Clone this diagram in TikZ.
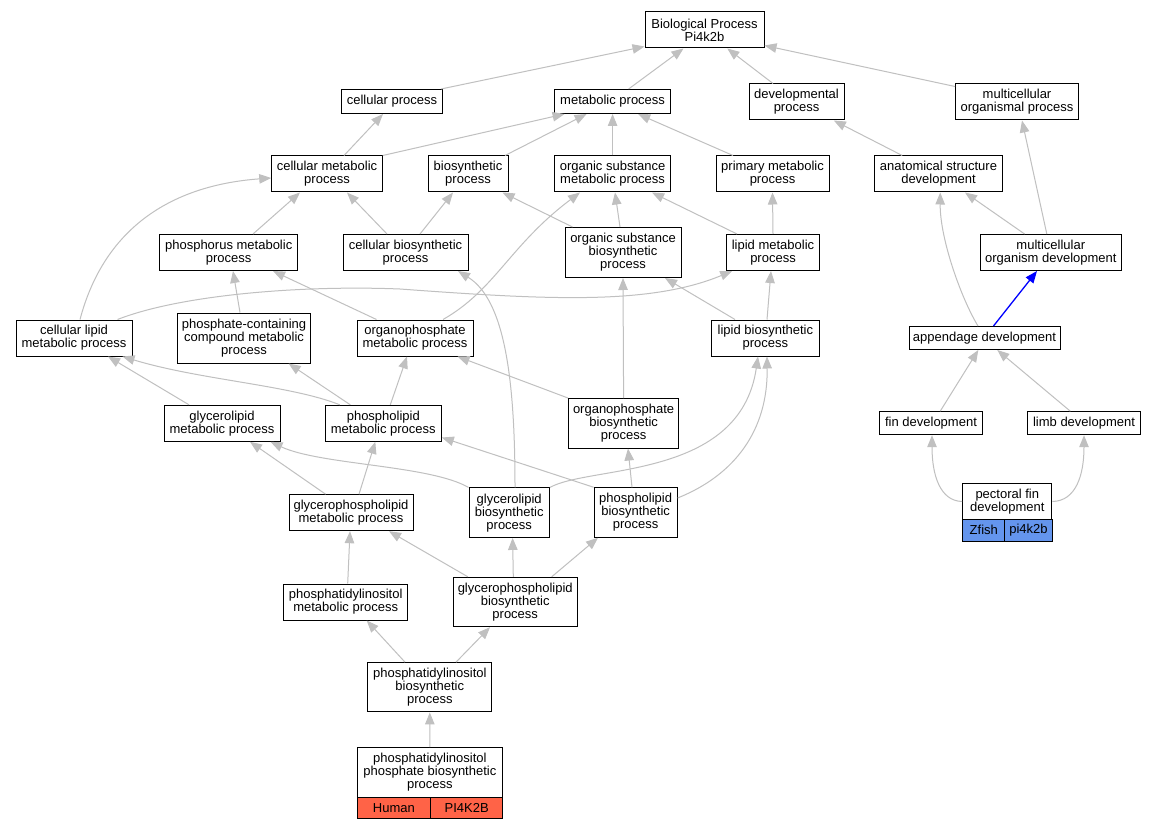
\documentclass[tikz,border=0pt]{standalone}
\usepackage{fontspec}
\setmainfont{Liberation Sans}
\usetikzlibrary{arrows.meta}
\definecolor{edgegray}{RGB}{192,192,192}
\definecolor{humanred}{RGB}{255,99,71}
\definecolor{fishblue}{RGB}{100,149,237}
\tikzset{
  gobox/.style={draw=black, line width=1pt, fill=white, inner sep=0pt, align=center,
    font=\fontsize{13}{13}\selectfont},
  sz/.style 2 args={minimum width=#1pt, minimum height=#2pt},
  goedge/.style={color=edgegray, line width=1pt, -{Triangle[length=12pt,width=9.5pt]}},
  blueedge/.style={color=blue, line width=1.3pt, -{Triangle[length=12pt,width=9.5pt]}},
  cellred/.style={gobox, fill=humanred},
  cellblue/.style={gobox, fill=fishblue}
}
\begin{document}
\begin{tikzpicture}[x=1pt,y=-1pt]
\useasboundingbox[fill=white] (0,0) rectangle (1156,829);
% nodes
\node[gobox, sz={119}{36}] (bp) at (704.5,30) {Biological Process\\Pi4k2b};
\node[gobox, sz={101}{24}] (cp) at (392,101.5) {cellular process};
\node[gobox, sz={116}{24}] (mp) at (612.6,101.5) {metabolic process};
\node[gobox, sz={95}{36}] (dp) at (796.5,102) {developmental\\process};
\node[gobox, sz={123}{36}] (mop) at (1017,102) {multicellular\\organismal process};
\node[gobox, sz={110.5}{36}] (cmp) at (327,174) {cellular metabolic\\process};
\node[gobox, sz={80}{36}] (bsp) at (468,174) {biosynthetic\\process};
\node[gobox, sz={116}{36}] (osmp) at (612.6,174) {organic substance\\metabolic process};
\node[gobox, sz={113}{36}] (pmp) at (772.5,174) {primary metabolic\\process};
\node[gobox, sz={128}{36}] (asd) at (938.5,174) {anatomical structure\\development};
\node[gobox, sz={137.5}{36}] (phmp) at (228.7,252.5) {phosphorus metabolic\\process};
\node[gobox, sz={125}{36}] (cbp) at (405.5,252.5) {cellular biosynthetic\\process};
\node[gobox, sz={116}{50}] (osbp) at (623,252.5) {organic substance\\biosynthetic\\process};
\node[gobox, sz={93.5}{36}] (lmp) at (773,252.5) {lipid metabolic\\process};
\node[gobox, sz={141.6}{36}] (mod) at (1050.8,252.5) {multicellular\\organism development};
\node[gobox, sz={116}{36}] (clmp) at (74,338) {cellular lipid\\metabolic process};
\node[gobox, sz={133.6}{50}] (pccmp) at (244,338) {phosphate-containing\\compound metabolic\\process};
\node[gobox, sz={116}{36}] (opmp) at (415,338) {organophosphate\\metabolic process};
\node[gobox, sz={107.3}{36}] (lbp) at (765.4,338) {lipid biosynthetic\\process};
\node[gobox, sz={151}{23}] (ad) at (984.5,338) {appendage development};
\node[gobox, sz={116}{36}] (glmp) at (222,423.3) {glycerolipid\\metabolic process};
\node[gobox, sz={116}{36}] (plmp) at (383.3,423.3) {phospholipid\\metabolic process};
\node[gobox, sz={110}{49.5}] (opbp) at (623.6,423.3) {organophosphate\\biosynthetic\\process};
\node[gobox, sz={102.5}{23}] (fd) at (931,423.2) {fin development};
\node[gobox, sz={112.5}{23}] (ld) at (1084,423.2) {limb development};
\node[gobox, sz={124}{36}] (gpmp) at (351,512.7) {glycerophospholipid\\metabolic process};
\node[gobox, sz={80.4}{49.5}] (glbp) at (509.2,512.7) {glycerolipid\\biosynthetic\\process};
\node[gobox, sz={83}{49.5}] (plbp) at (635.6,512.5) {phospholipid\\biosynthetic\\process};
\node[gobox, sz={89.3}{35.6}] (pfd) at (1007.3,501.5) {pectoral fin\\development};
\node[cellblue, sz={42.2}{21.7}] (pfdA) at (983.8,530.2) {Zfish};
\node[cellblue, sz={47.1}{21.7}] (pfdB) at (1028.45,530.2) {pi4k2b};
\node[gobox, sz={124}{36}] (pimp) at (345.7,602) {phosphatidylinositol\\metabolic process};
\node[gobox, sz={124.3}{49.4}] (gpbp) at (515.2,602) {glycerophospholipid\\biosynthetic\\process};
\node[gobox, sz={124.3}{49.3}] (pibp) at (429.8,687.3) {phosphatidylinositol\\biosynthetic\\process};
\node[gobox, sz={145.7}{49.6}] (pipbp) at (429.85,772.5) {phosphatidylinositol\\phosphate biosynthetic\\process};
\node[cellred, sz={73.7}{21}] (pipA) at (393.85,807.8) {Human};
\node[cellred, sz={72}{21}] (pipB) at (466.7,807.8) {PI4K2B};
% edges
\draw[goedge] ([xshift=16pt]mp.north) -- ([xshift=-21pt]bp.south);
\draw[goedge] ([xshift=-2pt]cp.north east) -- ([yshift=2pt]bp.south west);
\draw[goedge] ([xshift=-23.5pt]dp.north) -- ([xshift=22.8pt]bp.south);
\draw[goedge] ([yshift=-3pt]mop.north west) -- ([yshift=3pt]bp.south east);
\draw[goedge] ([xshift=17pt]cmp.north) -- ([xshift=-9pt]cp.south);
\draw[goedge] (cmp.north east) -- ([xshift=-48pt]mp.south);
\draw[goedge] ([xshift=37pt]bsp.north) -- ([xshift=-26pt]mp.south);
\draw[goedge] (osmp.north) -- (mp.south);
\draw[goedge] ([xshift=-39.5pt]pmp.north) -- ([xshift=25.5pt]mp.south);
\draw[goedge] ([xshift=-36.3pt]asd.north) -- ([xshift=37.3pt]dp.south);
\draw[goedge] ([xshift=-4pt]mod.north) -- ([xshift=5pt]mop.south);
\draw[goedge] ([xshift=-26.2pt]mod.north) -- ([xshift=26.5pt]asd.south);
\draw[goedge] ([xshift=-6.5pt]ad.north) .. controls (962,300) and (940,240) .. ([xshift=1.7pt]asd.south);
\draw[blueedge] ([xshift=9pt]ad.north) -- ([xshift=-13.8pt]mod.south);
\draw[goedge] ([xshift=9.2pt]fd.north) -- ([xshift=-6.2pt]ad.south);
\draw[goedge] ([xshift=-13.7pt]ld.north) -- ([xshift=12.8pt]ad.south);
\draw[goedge] (pfd.west) .. controls (940,501) and (932,475) .. ([xshift=1pt]fd.south);
\draw[goedge] (pfd.east) .. controls (1076,501) and (1084,475) .. (ld.south);
\draw[goedge] ([xshift=24.3pt]phmp.north) -- ([xshift=-27pt]cmp.south);
\draw[goedge] ([xshift=-18.5pt]cbp.north) -- ([xshift=20pt]cmp.south);
\draw[goedge] ([xshift=14.5pt]cbp.north) -- ([xshift=-15pt]bsp.south);
\draw[goedge] ([xshift=8pt]osbp.north west) -- ([xshift=-6pt]bsp.south east);
\draw[goedge] ([xshift=-3pt]osbp.north) -- ([xshift=2.4pt]osmp.south);
\draw[goedge] ([xshift=-36pt]lmp.north) -- ([xshift=39.4pt]osmp.south);
\draw[goedge] (lmp.north) -- (pmp.south);
\draw[goedge] ([xshift=6pt]clmp.north) .. controls (105,225) and (175,185) .. ([yshift=-4pt]cmp.west);
\draw[goedge] ([xshift=-15pt]clmp.north east) .. controls (180,295) and (300,285) .. (400,289) .. controls (550,300) and (650,305) .. ([xshift=6.5pt]lmp.south west);
\draw[goedge] ([xshift=-4pt]pccmp.north) -- ([xshift=4.3pt]phmp.south);
\draw[goedge] ([xshift=20pt]opmp.north west) -- ([xshift=44.3pt]phmp.south);
\draw[goedge] ([xshift=28pt]opmp.north) .. controls (495,290) and (510,245) .. ([xshift=-32.6pt]osmp.south);
\draw[goedge] ([xshift=1.6pt]lbp.north) -- ([xshift=-2pt]lmp.south);
\draw[goedge] ([xshift=-30.4pt]lbp.north) -- ([xshift=42pt]osbp.south);
\draw[goedge] ([xshift=5.8pt]glbp.north) .. controls (515,380) and (505,300) .. ([xshift=52.5pt]cbp.south);
\draw[goedge] ([xshift=15pt]plmp.north west) .. controls (290,385) and (200,380) .. ([xshift=-10pt]clmp.south east);
\draw[goedge] ([xshift=-33pt]glmp.north) -- ([xshift=34pt]clmp.south);
\draw[goedge] ([xshift=-33pt]plmp.north) -- ([xshift=44.6pt]pccmp.south);
\draw[goedge] ([xshift=7pt]plmp.north) -- ([xshift=-8pt]opmp.south);
\draw[goedge] (opbp.north west) -- ([xshift=-16pt]opmp.south east);
\draw[goedge] (opbp.north) -- (osbp.south);
\draw[goedge] ([xshift=-25.4pt]gpmp.north) -- ([xshift=28pt]glmp.south);
\draw[goedge] ([xshift=8pt]gpmp.north) -- ([xshift=-8pt]plmp.south);
\draw[goedge] (glbp.north west) .. controls (430,465) and (320,465) .. ([xshift=-10pt]glmp.south east);
\draw[goedge] (glbp.north east) .. controls (590,465) and (740,480) .. ([xshift=-7.4pt]lbp.south);
\draw[goedge] (plbp.north west) -- ([yshift=4.3pt]plmp.south east);
\draw[goedge] ([xshift=-3.6pt]plbp.north) -- ([xshift=4.4pt]opbp.south);
\draw[goedge] ([yshift=14.5pt]plbp.east) .. controls (735,475) and (768,430) .. ([xshift=1.6pt]lbp.south);
\draw[goedge] ([xshift=2pt]pimp.north) -- ([xshift=-1pt]gpmp.south);
\draw[goedge] ([xshift=15.3pt]gpbp.north west) -- ([xshift=38pt]gpmp.south);
\draw[goedge] ([xshift=-1.9pt]gpbp.north) -- ([xshift=3.4pt]glbp.south);
\draw[goedge] ([xshift=36.5pt]gpbp.north) -- ([xshift=-37.6pt]plbp.south);
\draw[goedge] ([xshift=-24.8pt]pibp.north) -- ([xshift=21pt]pimp.south);
\draw[goedge] ([xshift=26.2pt]pibp.north) -- ([xshift=-25.2pt]gpbp.south);
\draw[goedge] (pipbp.north) -- (pibp.south);
\end{tikzpicture}
\end{document}
